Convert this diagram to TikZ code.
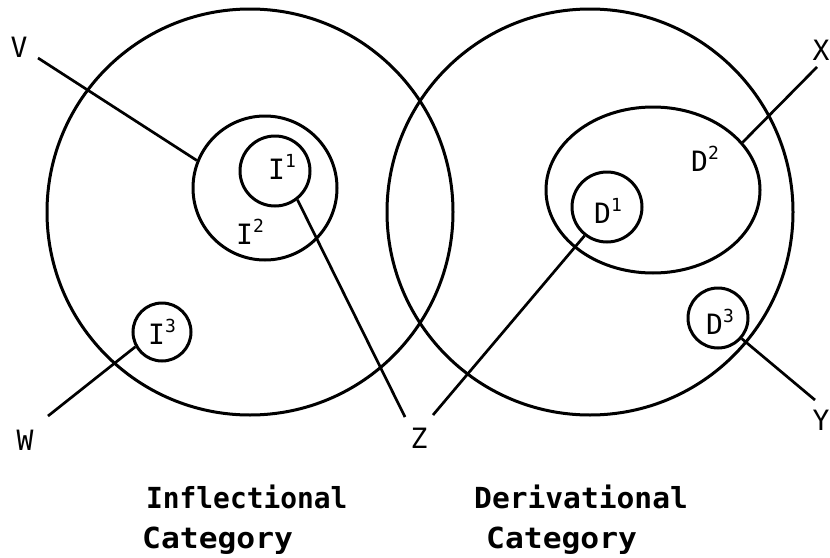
\documentclass[tikz,border=0pt]{standalone}
\usepackage{fontspec}
\usetikzlibrary{shapes.geometric}
\newfontfamily\plotfont{DejaVu Sans Mono}
\newfontfamily\capfont{DejaVu Sans Mono Bold}
\newcommand\upnum[1]{\raisebox{0.42em}{\fontsize{18}{18}\selectfont #1}}
\tikzset{
  ring/.style={draw, circle, inner sep=0pt, line width=3pt},
  oval/.style={draw, ellipse, inner sep=0pt, line width=3pt},
  wire/.style={line width=2.7pt},
  lbl/.style={inner sep=0pt, font=\plotfont\fontsize{28}{28}\selectfont},
  captext/.style={inner sep=0pt, anchor=base west, font=\capfont\fontsize{29}{29}\selectfont}
}
\begin{document}
\begin{tikzpicture}[x=1pt,y=-1pt]
\useasboundingbox (0,0) rectangle (830,557);
% big circles
\node[ring, minimum size=406pt] (L) at (250,212) {};
\node[ring, minimum size=406pt] (R) at (590,212) {};
% inflectional
\node[ring, minimum size=144pt] (I2) at (265,188) {};
\node[ring, minimum size=70pt] (I1) at (275,171) {};
\node[ring, minimum size=58pt] (I3) at (162,332) {};
% derivational
\node[oval, minimum width=214pt, minimum height=166pt] (D2) at (653,190) {};
\node[ring, minimum size=70pt] (D1) at (607,207) {};
\node[ring, minimum size=60pt] (D3) at (718,318) {};
% inner labels
\node[lbl] (tI1) at (282,167) {I\upnum{1}};
\node[lbl] (tI2) at (250,232) {I\upnum{2}};
\node[lbl] (tI3) at (162,332) {I\upnum{3}};
\node[lbl] (tD1) at (608,211) {D\upnum{1}};
\node[lbl] (tD2) at (705,159) {D\upnum{2}};
\node[lbl] (tD3) at (720,322) {D\upnum{3}};
% free ends
\coordinate (v) at (38,58);
\coordinate (w) at (48,416);
\coordinate (x) at (817,67);
\coordinate (y) at (815,400);
\coordinate (zi) at (405,417);
\coordinate (zd) at (433,415);
% connectors
\draw[wire] (v) -- (I2.158);
\draw[wire] (I3.209) -- (w);
\draw[wire] (I1.-52) -- (zi);
\draw[wire] (D1.232) -- (zd);
\draw[wire] (D2.28) -- (x);
\draw[wire] (D3.-41) -- (y);
% outer labels
\node[lbl] (tV) at (19,47) {V};
\node[lbl] (tW) at (25,440) {W};
\node[lbl] (tX) at (821,50) {X};
\node[lbl] (tY) at (821,420) {Y};
\node[lbl] (tZ) at (419,438) {Z};
% captions
\node[captext] (c1) at (146,508) {\scalebox{0.96}[1]{Inflectional}};
\node[captext] (c2) at (142,548) {\scalebox{1.08}[1]{Category}};
\node[captext] (c3) at (474,508) {\scalebox{1.02}[1]{Derivational}};
\node[captext] (c4) at (486,548) {\scalebox{1.08}[1]{Category}};
\end{tikzpicture}
\end{document}
